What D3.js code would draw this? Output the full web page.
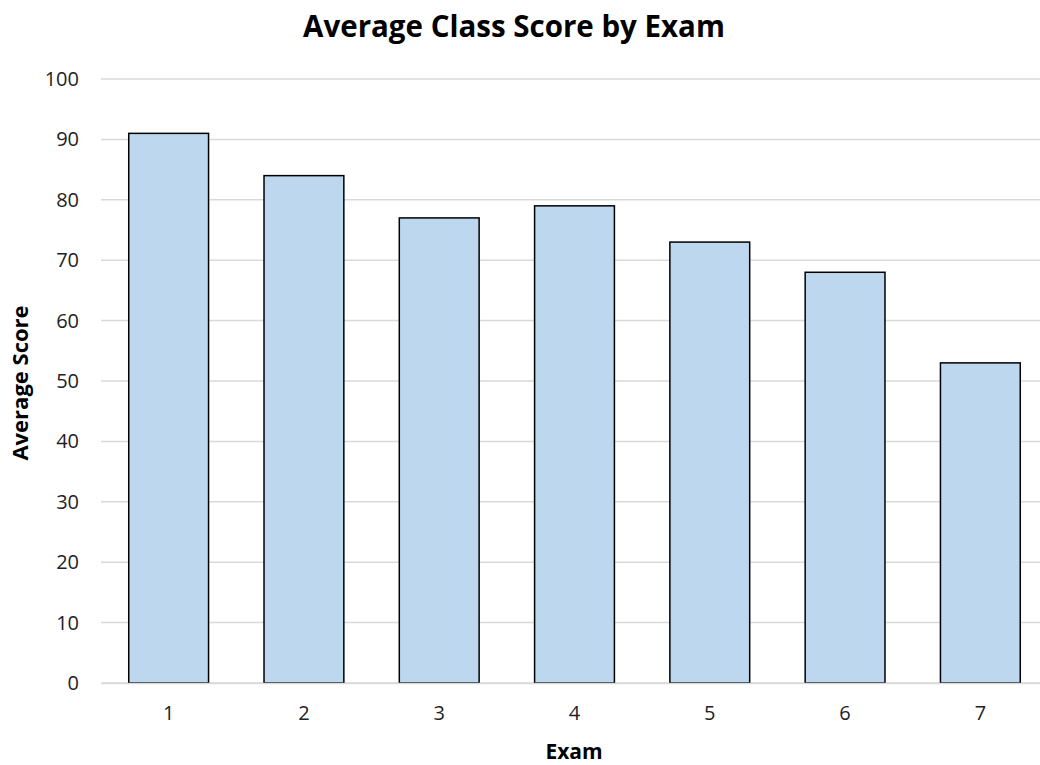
<!DOCTYPE html>
<html><head><meta charset="utf-8">
<script src="https://cdn.jsdelivr.net/npm/d3@7"></script>
<style>body{margin:0;background:#fff;} svg{display:block;}</style>
</head><body>
<svg id="c" width="1040" height="765"></svg>
<script>
const categories = ["1","2","3","4","5","6","7"];
const scores = [91, 84, 77, 79, 73, 68, 53];
const yTicks = [0,10,20,30,40,50,60,70,80,90,100];
const chartTitle = "Average Class Score by Exam";
const xTitle = "Exam";
const yTitle = "Average Score";

(function(){
const svg = d3.select("#c");
const font = "'Open Sans', sans-serif";
const pLeft = 101, pRight = 1048, pTop = 79, pBottom = 683;

const x = d3.scaleBand().domain(categories).range([pLeft, pRight]).paddingInner(0.41).paddingOuter(0.205);
const y = d3.scaleLinear().domain([0,100]).range([pBottom, pTop]);

svg.append("g").selectAll("line").data(yTicks).join("line")
  .attr("x1", pLeft).attr("x2", pRight)
  .attr("y1", d => y(d)).attr("y2", d => y(d))
  .attr("stroke", "#d9d9d9").attr("stroke-width", 1.5);

const ya = svg.append("g").attr("transform", `translate(${pLeft},0)`)
  .call(d3.axisLeft(y).tickValues(yTicks).tickSize(0).tickPadding(22));
ya.select(".domain").remove();
ya.selectAll("text").attr("font-family", font).attr("font-size", 20).attr("fill", "#222");

svg.append("g").selectAll("rect").data(scores).join("rect")
  .attr("x", (d,i) => x(categories[i]))
  .attr("width", x.bandwidth())
  .attr("y", d => y(d))
  .attr("height", d => y(0) - y(d))
  .attr("fill", "#BDD7EE").attr("stroke", "#000").attr("stroke-width", 1.5);

const xa = svg.append("g").attr("transform", `translate(0,${pBottom})`)
  .call(d3.axisBottom(x).tickSize(0).tickPadding(23));
xa.select(".domain").attr("stroke", "#d9d9d9").attr("stroke-width", 1.5);
xa.selectAll("text").attr("font-family", font).attr("font-size", 20).attr("fill", "#222");

svg.append("text").attr("x", 514).attr("y", 37).attr("text-anchor", "middle")
  .attr("font-family", font).attr("font-weight", "bold").attr("font-size", 29.5).attr("fill", "#000").text(chartTitle);
svg.append("text").attr("x", 574).attr("y", 759).attr("text-anchor", "middle")
  .attr("font-family", font).attr("font-weight", "bold").attr("font-size", 21).attr("fill", "#000").text(xTitle);
svg.append("text").attr("transform", `translate(28,383) rotate(-90)`).attr("text-anchor", "middle")
  .attr("font-family", font).attr("font-weight", "bold").attr("font-size", 22).attr("fill", "#000").text(yTitle);
})();
</script>
</body></html>
